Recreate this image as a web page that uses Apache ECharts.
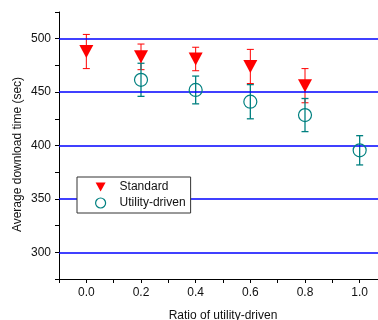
<!DOCTYPE html>
<html>
<head>
<meta charset="utf-8">
<script src="https://cdn.jsdelivr.net/npm/echarts@6/dist/echarts.min.js"></script>
<style>
  html, body { margin: 0; padding: 0; background: #fff; }
  #chart { width: 378px; height: 320px; }
</style>
</head>
<body>
<div id="chart"></div>
<script>
// ratio of utility-driven peers
const ratios = [0.0, 0.2, 0.4, 0.6, 0.8, 1.0]
const standardMean = [488, 483, 481, 474, 456, null]
const standardErr = [16, 12, 11, 16, 16, null]
const utilityMean = [null, 461.5, 452, 441, 428.5, 395.5]
const utilityErr = [null, 15.5, 13, 16, 15.5, 13.7]
const gridValues = [300, 350, 400, 450, 500]

const RED = '#ff0000'
const TEAL = '#008080'
const FONT = '"Liberation Sans", Arial, sans-serif'

const points = (means) =>
  ratios.map((x, i) => (means[i] == null ? null : [x, means[i]])).filter(Boolean)

const errorRows = (means, errs) =>
  ratios
    .map((x, i) => (means[i] == null ? null : [x, means[i] - errs[i], means[i] + errs[i]]))
    .filter(Boolean)

function errorBarSeries(name, rows, color, width) {
  return {
    name,
    type: 'custom',
    silent: true,
    z: 3,
    data: rows,
    renderItem: (params, api) => {
      const top = api.coord([api.value(0), api.value(2)])
      const bottom = api.coord([api.value(0), api.value(1)])
      const half = 3.5
      const style = { stroke: color, lineWidth: width }
      return {
        type: 'group',
        children: [
          { type: 'line', shape: { x1: top[0], y1: top[1], x2: bottom[0], y2: bottom[1] }, style },
          { type: 'line', shape: { x1: top[0] - half, y1: top[1], x2: top[0] + half, y2: top[1] }, style },
          { type: 'line', shape: { x1: bottom[0] - half, y1: bottom[1], x2: bottom[0] + half, y2: bottom[1] }, style },
        ],
      }
    },
  }
}

const chart = echarts.init(document.getElementById('chart'), null, { renderer: 'canvas' })

chart.setOption({
  animation: false,
  backgroundColor: '#fff',
  textStyle: { fontFamily: FONT },
  // the original plot frame runs a little past the right edge of the picture
  grid: { left: 59, top: 12, width: 328, height: 267, containLabel: false, outerBoundsMode: 'none' },
  legend: {
    orient: 'vertical',
    left: 77,
    top: 177,
    padding: [4, 5, 4, 18],
    itemGap: 4,
    itemWidth: 10,
    itemHeight: 10,
    backgroundColor: '#fff',
    borderColor: '#333',
    borderWidth: 1,
    borderRadius: 0,
    z: 10,
    textStyle: { fontSize: 12, color: '#111', fontFamily: FONT, padding: [0, 0, 0, 9] },
    data: [
      { name: 'Standard', icon: 'path://M0,0L10,0L5,9Z', itemStyle: { color: RED } },
      { name: 'Utility-driven', icon: 'circle', itemStyle: { color: '#fff', borderColor: TEAL, borderWidth: 1.2 } },
    ],
  },
  xAxis: {
    type: 'value',
    min: -0.1,
    max: 1.1,
    interval: 0.1,
    name: 'Ratio of utility-driven',
    nameLocation: 'middle',
    nameGap: 31,
    nameMoveOverlap: false,
    nameTextStyle: { fontSize: 12, color: '#111', fontFamily: FONT },
    axisLine: { onZero: false, lineStyle: { color: '#000', width: 1 } },
    axisTick: { length: 4, lineStyle: { color: '#000' } },
    splitLine: { show: false },
    axisLabel: {
      margin: 8,
      fontSize: 12,
      color: '#111',
      fontFamily: FONT,
      formatter: (v) => {
        const k = Math.round(v * 10)
        return k >= 0 && k <= 10 && k % 2 === 0 ? (k / 10).toFixed(1) : ''
      },
    },
  },
  yAxis: {
    type: 'value',
    min: 275,
    max: 525,
    interval: 25,
    name: 'Average download time (sec)',
    nameLocation: 'middle',
    nameGap: 35,
    nameMoveOverlap: false,
    nameTextStyle: { fontSize: 12, color: '#111', fontFamily: FONT, padding: [0, 18, 0, 0] },
    axisLine: { show: true, onZero: false, lineStyle: { color: '#000', width: 1 } },
    axisTick: { show: true, length: 4, lineStyle: { color: '#000' } },
    splitLine: { show: false },
    axisLabel: {
      margin: 8,
      fontSize: 12,
      color: '#111',
      fontFamily: FONT,
      formatter: (v) => (Math.round(v) % 50 === 0 && v >= 300 && v <= 500 ? String(Math.round(v)) : ''),
    },
  },
  series: [
    {
      name: 'grid',
      type: 'line',
      data: [],
      silent: true,
      z: 1,
      markLine: {
        silent: true,
        symbol: 'none',
        label: { show: false },
        lineStyle: { color: '#0000ff', width: 1.5, type: 'solid' },
        data: gridValues.map((v) => ({ yAxis: v })),
      },
    },
    errorBarSeries('Standard-err', errorRows(standardMean, standardErr), RED, 1),
    errorBarSeries('Utility-err', errorRows(utilityMean, utilityErr), TEAL, 1.3),
    {
      name: 'Standard',
      type: 'scatter',
      z: 4,
      symbol: 'triangle',
      symbolRotate: 180,
      symbolSize: [14, 13],
      itemStyle: { color: RED, opacity: 1 },
      data: points(standardMean),
    },
    {
      name: 'Utility-driven',
      type: 'scatter',
      z: 5,
      symbol: 'circle',
      symbolSize: 13,
      itemStyle: { color: 'rgba(255,255,255,0)', borderColor: TEAL, borderWidth: 1.2, opacity: 1 },
      data: points(utilityMean),
    },
  ],
})
</script>
</body>
</html>
